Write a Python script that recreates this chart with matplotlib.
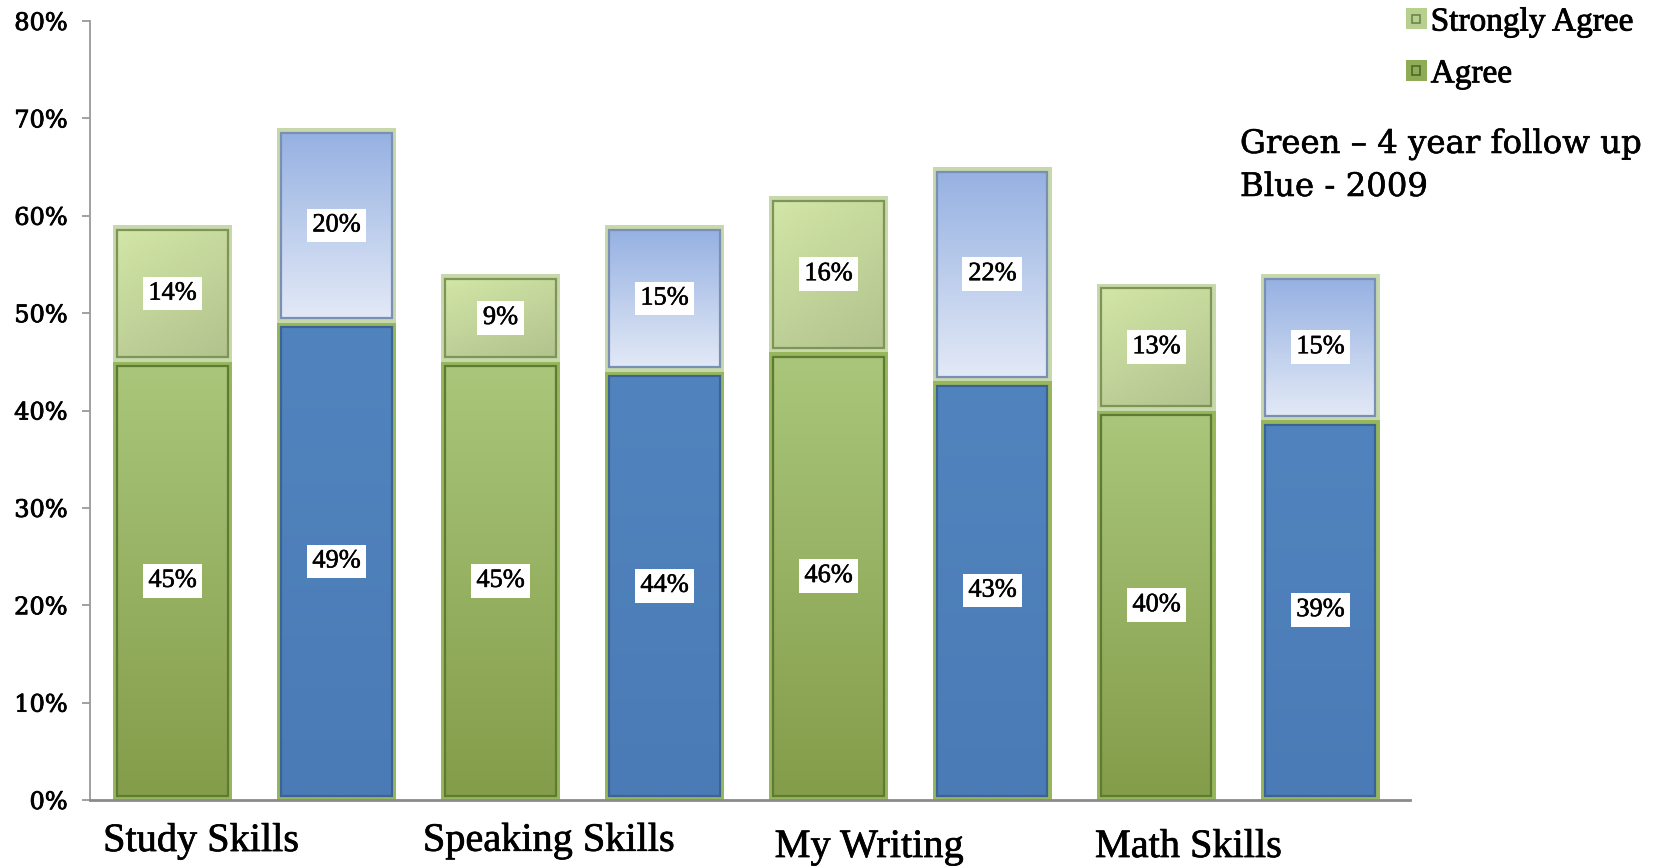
import numpy as np
import matplotlib
matplotlib.use("Agg")
import matplotlib.pyplot as plt
import matplotlib.patheffects as pe
from matplotlib.patches import Rectangle, Patch
from matplotlib.colors import LinearSegmentedColormap
from matplotlib.legend_handler import HandlerBase

# ---------------- data ----------------
categories = ["Study Skills", "Speaking Skills", "My Writing", "Math Skills"]
followup_agree = [45, 45, 46, 40]          # green, 4 year follow up
followup_strongly = [14, 9, 16, 13]
y2009_agree = [49, 44, 43, 39]             # blue, 2009
y2009_strongly = [20, 15, 22, 15]
legend_labels = ["Strongly Agree", "Agree"]
note_text = ["Green \u2013 4 year follow up", "Blue - 2009"]
ytick_values = [0, 10, 20, 30, 40, 50, 60, 70, 80]

# ---------------- figure ----------------
W, H = 1662, 867
fig = plt.figure(figsize=(W / 100, H / 100), dpi=100)
ax = fig.add_axes([90 / W, 67 / H, 1320 / W, 779 / H])

SERIF = "Liberation Serif"
SERIF2 = "DejaVu Serif"
thick = [pe.withStroke(linewidth=0.6, foreground="black")]
medium = [pe.withStroke(linewidth=0.4, foreground="black")]

n = len(categories)
x_green = np.arange(n) * 2
x_blue = x_green + 1
width = 0.726

ga = np.array(followup_agree) / 100
gs = np.array(followup_strongly) / 100
ba = np.array(y2009_agree) / 100
bs = np.array(y2009_strongly) / 100

frame_agree = "#97b75c"
frame_strong = "#c7d9aa"

bars_ga = ax.bar(x_green, ga, width, color=frame_agree, linewidth=0, zorder=2)
bars_gs = ax.bar(x_green, gs, width, bottom=ga, color=frame_strong, linewidth=0, zorder=2)
bars_ba = ax.bar(x_blue, ba, width, color=frame_agree, linewidth=0, zorder=2)
bars_bs = ax.bar(x_blue, bs, width, bottom=ba, color=frame_strong, linewidth=0, zorder=2)

xlim = (-0.503, 7.546)
ylim = (0, 0.8)
ax.set_xlim(*xlim)
ax.set_ylim(*ylim)

pos = ax.get_position()
px_per_x = pos.width * W / (xlim[1] - xlim[0])
px_per_y = pos.height * H / (ylim[1] - ylim[0])
inset_px = 4.5
dx = inset_px / px_per_x
dy = inset_px / px_per_y


def cmap(c_top, c_bot):
    return LinearSegmentedColormap.from_list("g", [c_bot, c_top])


styles = [
    (bars_ga, cmap("#a9c67a", "#849d4b"), "#5f7a33", 0.0),
    (bars_gs, cmap("#d2e6a6", "#b2c38e"), "#7e9557", 0.35),
    (bars_ba, cmap("#5184be", "#4b7bb6"), "#3b6396", 0.0),
    (bars_bs, cmap("#96b1e2", "#e2e9f6"), "#7a8fb5", 0.0),
]

yy, xx = np.mgrid[0:1:64j, 0:1:64j]
for container, cm, dark, diag in styles:
    grad = (1 - diag) * yy + diag * (1 - xx)
    for p in container:
        x0 = p.get_x() + dx
        x1 = p.get_x() + p.get_width() - dx
        y0 = p.get_y() + dy
        y1 = p.get_y() + p.get_height() - dy
        inner = Rectangle((x0, y0), x1 - x0, y1 - y0, facecolor="none",
                          edgecolor=dark, linewidth=1.6, zorder=4)
        ax.add_patch(inner)
        im = ax.imshow(grad, cmap=cm, extent=(x0, x1, y0, y1), origin="lower",
                       aspect="auto", interpolation="bilinear", zorder=3)
        im.set_clip_path(inner)

# value labels
for container, vals in [(bars_ga, followup_agree), (bars_gs, followup_strongly),
                        (bars_ba, y2009_agree), (bars_bs, y2009_strongly)]:
    for p, v in zip(container, vals):
        ax.text(p.get_x() + p.get_width() / 2, p.get_y() + p.get_height() / 2,
                f"{v}%", ha="center", va="center", fontsize=19, family=SERIF,
                color="black", zorder=6, path_effects=medium,
                bbox=dict(boxstyle="square,pad=0.22", facecolor="white", edgecolor="none"))

ax.set_xlim(*xlim)
ax.set_ylim(*ylim)

# axes styling
for s in ["top", "right"]:
    ax.spines[s].set_visible(False)
ax.spines["left"].set_color("#9a9a9a")
ax.spines["left"].set_linewidth(1.3)
ax.spines["bottom"].set_color("#8a8a8a")
ax.spines["bottom"].set_linewidth(2.0)
ax.spines["bottom"].set_zorder(5)
ax.set_xticks([])
ax.set_yticks([v / 100 for v in ytick_values])
ax.set_yticklabels([f"{v}%" for v in ytick_values], family=SERIF2, fontsize=17.3)
for t in ax.get_yticklabels():
    t.set_path_effects(thick)
ax.tick_params(axis="y", length=6, width=1.3, color="#9a9a9a", pad=10)

# category labels
label_dx = [-0.06, -0.11, 0.035, -0.012]
label_y = [-0.053, -0.053, -0.061, -0.061]
for i, c in enumerate(categories):
    ax.text(x_green[i] - width / 2 + label_dx[i], label_y[i], c,
            transform=ax.get_xaxis_transform(), ha="left", va="center",
            fontsize=29, family=SERIF, color="black",
            path_effects=[pe.withStroke(linewidth=0.5, foreground="black")])


# legend
class BoxHandler(HandlerBase):
    def create_artists(self, legend, orig_handle, xdescent, ydescent, width, height,
                       fontsize, trans):
        s = min(width, height)
        x0 = -xdescent + (width - s) / 2
        y0 = -ydescent + (height - s) / 2
        outer = Rectangle((x0, y0), s, s, facecolor=orig_handle.get_facecolor(),
                          edgecolor="none", transform=trans)
        inner = Rectangle((x0 + s * 0.3, y0 + s * 0.3), s * 0.4, s * 0.4,
                          facecolor=orig_handle.get_facecolor(),
                          edgecolor=orig_handle.get_edgecolor(), lw=1.2, transform=trans)
        return [outer, inner]


handles = [Patch(facecolor="#b8d08e", edgecolor="#6d8551"),
           Patch(facecolor="#8eab55", edgecolor="#4f6a2a")]
leg = fig.legend(handles, legend_labels, handler_map={Patch: BoxHandler()},
                 loc="upper left", bbox_to_anchor=(1406 / W, 1 - 7 / H),
                 frameon=False, prop={"family": SERIF, "size": 24},
                 handlelength=0.62, handleheight=0.62, handletextpad=0.12,
                 labelspacing=0.64, borderpad=0, borderaxespad=0)
for t in leg.get_texts():
    t.set_path_effects(thick)

# note
fig.text(1240 / W, 1 - 129 / H, "\n".join(note_text), ha="left", va="top",
         family=SERIF2, fontsize=23.3, linespacing=1.5, color="black",
         path_effects=medium)

fig.savefig("out.png", dpi=100)
